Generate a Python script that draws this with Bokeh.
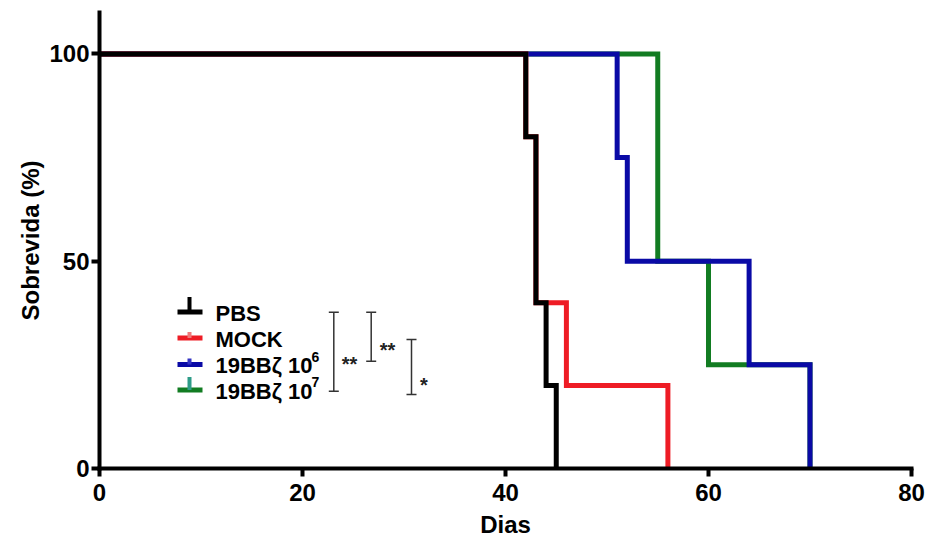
from bokeh.plotting import figure
from bokeh.models import Range1d, FixedTicker
from bokeh.core.properties import value
from bokeh.embed import file_html
from bokeh.resources import INLINE

# ---------------- data ----------------
group_names = ["PBS", "MOCK", "19BBζ 10", "19BBζ 10"]
group_sups = ["", "", "6", "7"]
group_colors = ["#000000", "#EE1C25", "#0A0AA6", "#127C22"]
tick_colors = ["#000000", "#F07A7A", "#3434C4", "#2E9C88"]

pbs_days = [0, 42, 43, 44, 45]
pbs_surv = [100, 80, 40, 20, 0]
mock_days = [0, 42, 43, 46, 56]
mock_surv = [100, 80, 40, 20, 0]
car6_days = [0, 51, 52, 64, 70]
car6_surv = [100, 75, 50, 25, 0]
car7_days = [0, 55, 60, 70]
car7_surv = [100, 50, 25, 0]

x_ticks = [0, 20, 40, 60, 80]
y_ticks = [0, 50, 100]
sig_labels = ["**", "**", "*"]
x_title = "Dias"
y_title = "Sobrevida (%)"

# ---------------- layout ----------------
FONT = "Liberation Sans"
X_END, Y_END = 80, 110
FW, FH = 812, 456
BL, BT = 99, 12


def px_x(page_x):
    return (page_x - BL) * X_END / FW


def px_y(page_y):
    return (BT + FH - page_y) * Y_END / FH


def dpy(px):
    return px * Y_END / FH


def dpx(px):
    return px * X_END / FW


p = figure(frame_width=FW, frame_height=FH,
           min_border_left=BL, min_border_top=BT,
           min_border_right=19, min_border_bottom=74,
           x_range=Range1d(0, X_END), y_range=Range1d(0, Y_END),
           output_backend="svg", toolbar_location=None)
p.xgrid.visible = False
p.ygrid.visible = False
p.outline_line_color = None
p.background_fill_color = "white"
p.border_fill_color = "white"

for ax in (p.xaxis[0], p.yaxis[0]):
    ax.axis_line_width = 4
    ax.axis_line_color = "black"
    ax.axis_line_cap = "square"
    ax.major_tick_line_width = 4
    ax.major_tick_line_color = "black"
    ax.major_tick_out = 8
    ax.major_tick_in = 0
    ax.minor_tick_out = 0
    ax.minor_tick_in = 0
    ax.major_label_text_font = FONT
    ax.major_label_text_font_style = "bold"
    ax.major_label_text_font_size = "24px"
    ax.major_label_text_color = "black"
    ax.axis_label_text_font = FONT
    ax.axis_label_text_font_style = "bold"
    ax.axis_label_text_font_size = "24px"
    ax.axis_label_text_color = "black"

p.xaxis.ticker = FixedTicker(ticks=x_ticks)
p.yaxis.ticker = FixedTicker(ticks=y_ticks)
p.xaxis.major_label_standoff = 7
p.xaxis.axis_label = x_title
p.xaxis.axis_label_standoff = 7
p.yaxis.major_label_standoff = 2
p.yaxis.axis_label = y_title
p.yaxis.axis_label_standoff = 2

# ---------------- survival curves ----------------
curves = [
    (car7_days, car7_surv, group_colors[3]),
    (car6_days, car6_surv, group_colors[2]),
    (mock_days, mock_surv, group_colors[1]),
    (pbs_days, pbs_surv, group_colors[0]),
]
for d, s, c in curves:
    p.step(d, s, mode="after", line_width=5, line_color=c, line_join="miter")

# ---------------- legend ----------------
rows = [px_y(v) for v in (311.5, 337.5, 364, 389.5)]
tick_h = [13, 4, 4, 11]
lx0, lx1, ltx = px_x(177), px_x(202), px_x(189)
p.segment(x0=[lx0] * 4, x1=[lx1] * 4, y0=rows, y1=rows,
          line_color=group_colors, line_width=5)
p.segment(x0=[ltx] * 4, x1=[ltx] * 4, y0=rows,
          y1=[r + dpy(h + 2) for r, h in zip(rows, tick_h)],
          line_color=tick_colors, line_width=4)
p.text(x=[px_x(215)] * 4, y=[r - dpy(1) for r in rows], text=group_names,
       text_font=value(FONT), text_font_style="bold", text_font_size="22px",
       text_baseline="middle", text_color="black")
sup_rows = [r + dpy(8) for r, s in zip(rows, group_sups) if s]
sup_txt = [s for s in group_sups if s]
p.text(x=[px_x(311)] * len(sup_txt), y=sup_rows, text=sup_txt,
       text_font=value(FONT), text_font_style="bold", text_font_size="14px",
       text_baseline="middle", text_color="black")

# ---------------- significance brackets ----------------
br_x = [px_x(333.3), px_x(370.7), px_x(411)]
br_top = [px_y(311.7), px_y(311.7), px_y(339)]
br_bot = [px_y(390.7), px_y(360.7), px_y(394)]
cap = dpx(5)
bx0, bx1, by0, by1 = [], [], [], []
for x, t, b in zip(br_x, br_top, br_bot):
    bx0 += [x, x - cap, x - cap]
    bx1 += [x, x + cap, x + cap]
    by0 += [t, t, b]
    by1 += [b, t, b]
p.segment(x0=bx0, x1=bx1, y0=by0, y1=by1, line_color="#333333", line_width=1.5)
sig_x = [px_x(349), px_x(387), px_x(423.5)]
sig_y = [px_y(352.7 + 11), px_y(338 + 11), px_y(373 + 11)]
p.text(x=sig_x, y=sig_y, text=sig_labels, text_font=value(FONT),
       text_font_size="20px", text_font_style="bold", text_align="center",
       text_baseline="alphabetic", text_color="#222222")

open("out.html", "w").write(file_html(p, INLINE))
